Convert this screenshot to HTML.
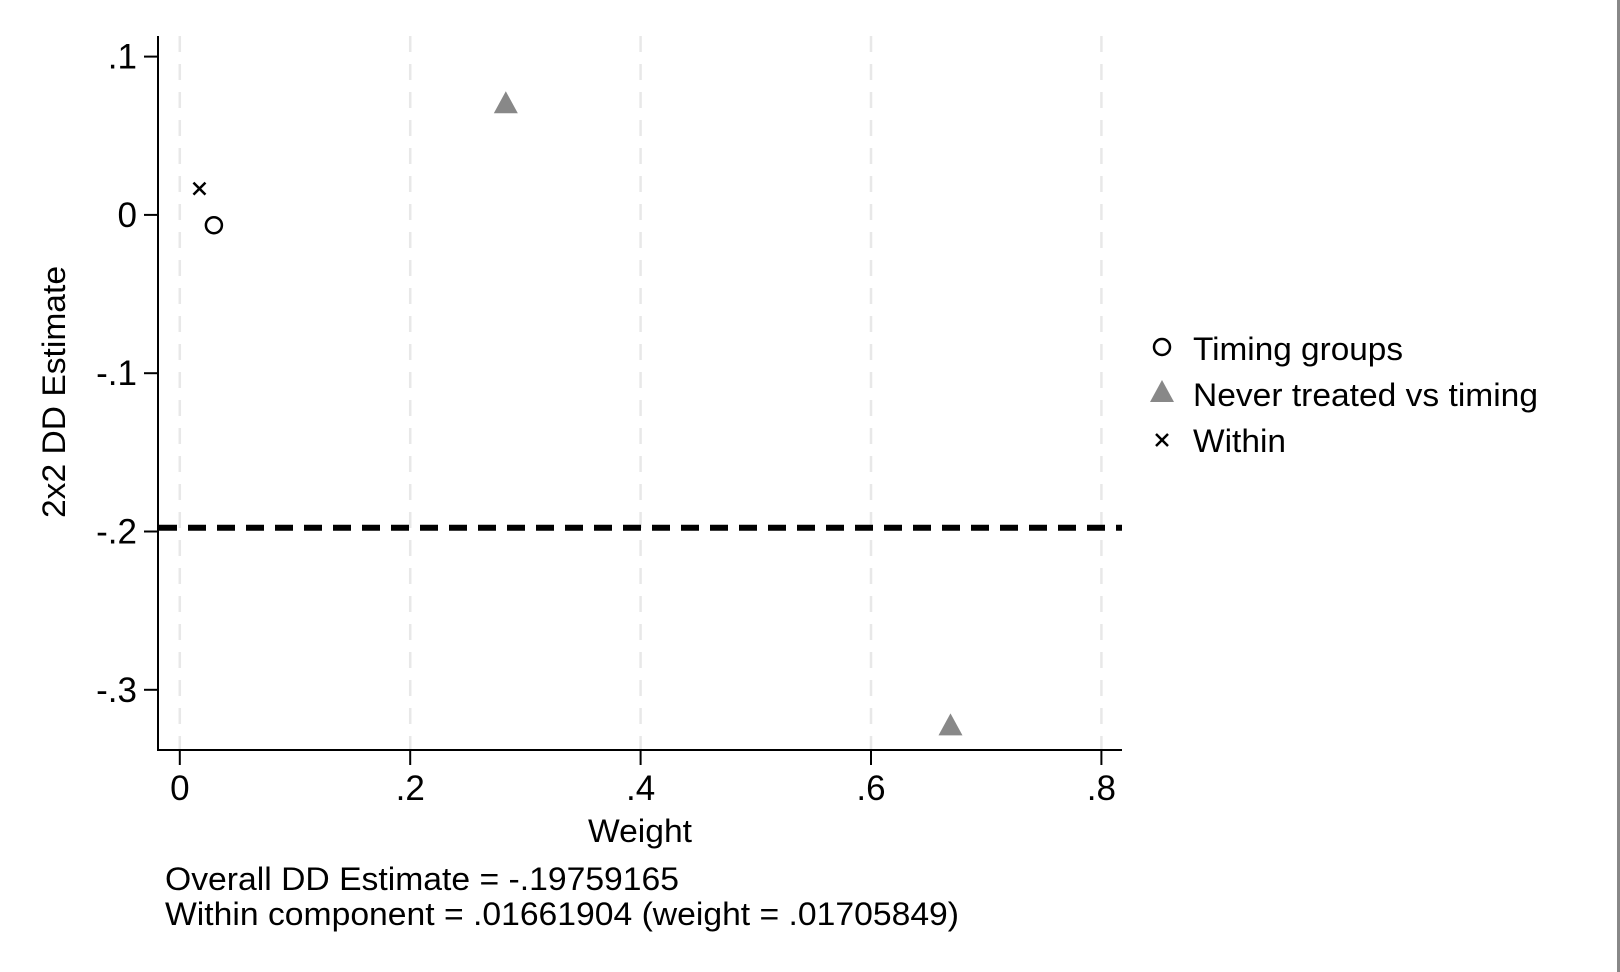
<!DOCTYPE html>
<html><head><meta charset="utf-8"><style>
html,body{margin:0;padding:0;background:#fff;}
svg{display:block;font-family:"Liberation Sans",Arial,sans-serif;}
</style></head><body>
<svg id="chart" width="1620" height="972" viewBox="0 0 1620 972">
<rect x="1617" y="0" width="3" height="972" fill="#888"/>
</svg>
<script>
const xTicks=[0,0.2,0.4,0.6,0.8];
const xTickLabels=["0",".2",".4",".6",".8"];
const yTicks=[0.1,0,-0.1,-0.2,-0.3];
const yTickLabels=[".1","0","-.1","-.2","-.3"];
const timingW=[0.0296];
const timingE=[-0.0065];
const neverW=[0.283,0.669];
const neverE=[0.0705,-0.3225];
const withinW=[0.01705849];
const withinE=[0.01661904];
const overall=-0.19759165;

const NS="http://www.w3.org/2000/svg";
const svg=document.getElementById('chart');
const X0=179.8, XS=1152, Y0=214.9, YS=1583;
const sx=v=>X0+v*XS, sy=v=>Y0-v*YS;
function mk(tag,attrs,parent){const e=document.createElementNS(NS,tag);for(const k in attrs)e.setAttribute(k,attrs[k]);(parent||svg).appendChild(e);return e;}

const grid=mk('g',{});


xTicks.forEach((t,i)=>{
  const l=mk('line',{x1:sx(t),x2:sx(t),y1:36,y2:750,stroke:'#e8e8e8','stroke-width':2.5,'stroke-dasharray':'16 12'},grid);
  
  
});
const ya=mk('line',{x1:158,x2:158,y1:36,y2:751,stroke:'#000','stroke-width':2});


const xa=mk('line',{x1:157,x2:1122,y1:750,y2:750,stroke:'#000','stroke-width':2});


xTicks.forEach((t,i)=>{
  const tk=mk('line',{x1:sx(t),x2:sx(t),y1:750,y2:765,stroke:'#000','stroke-width':2});
  
  
  const tx=mk('text',{x:sx(t),y:800,'font-size':35,'text-anchor':'middle'});
  tx.textContent=xTickLabels[i];
  
  
});
yTicks.forEach((t,i)=>{
  const tk=mk('line',{x1:144,x2:158,y1:sy(t),y2:sy(t),stroke:'#000','stroke-width':2});
  
  
  const tx=mk('text',{x:137,y:sy(t)+12,'font-size':35,'text-anchor':'end'});
  tx.textContent=yTickLabels[i];
  
  
});
const ol=mk('line',{x1:159,x2:1122,y1:sy(overall),y2:sy(overall),stroke:'#000','stroke-width':6,'stroke-dasharray':'18 11'});


timingW.forEach((w,i)=>{
  const c=mk('circle',{cx:sx(w),cy:sy(timingE[i]),r:8,fill:'none',stroke:'#000','stroke-width':2.5});
  
  
});
function tri(cx,cy,parent){return mk('polygon',{points:`${cx-12},${cy+10} ${cx+12},${cy+10} ${cx},${cy-12}`,fill:'#888'},parent);}
neverW.forEach((w,i)=>{
  const p=tri(sx(w),sy(neverE[i]));
  
  
});
function cross(cx,cy,parent){const g=mk('g',{stroke:'#000','stroke-width':2.5},parent);mk('line',{x1:cx-6,y1:cy-6,x2:cx+6,y2:cy+6},g);mk('line',{x1:cx-6,y1:cy+6,x2:cx+6,y2:cy-6},g);return g;}
withinW.forEach((w,i)=>{
  const g=cross(sx(w),sy(withinE[i]));
  
  
});
const yt=mk('text',{x:0,y:0,'font-size':32,'text-anchor':'middle',transform:'translate(65,392) rotate(-90)',textLength:252,lengthAdjust:'spacingAndGlyphs'});
yt.textContent='2x2 DD Estimate';


const xt=mk('text',{x:640,y:842,'font-size':32,'text-anchor':'middle',textLength:104,lengthAdjust:'spacingAndGlyphs'});
xt.textContent='Weight';


const n1=mk('text',{x:165,y:890,'font-size':32,textLength:514,lengthAdjust:'spacingAndGlyphs'});
n1.textContent='Overall DD Estimate = -.19759165';


const n2=mk('text',{x:165,y:925,'font-size':32,textLength:794,lengthAdjust:'spacingAndGlyphs'});
n2.textContent='Within component = .01661904 (weight = .01705849)';


const lg=mk('g',{});


const e1=mk('circle',{cx:1162,cy:347,r:8,fill:'none',stroke:'#000','stroke-width':2.5},lg);


const e2=tri(1162,392,lg);


const e3=cross(1162,440,lg);


const lt1=mk('text',{x:1193,y:360,'font-size':32,textLength:210,lengthAdjust:'spacingAndGlyphs'},lg);
lt1.textContent='Timing groups';


const lt2=mk('text',{x:1193,y:406,'font-size':32,textLength:345,lengthAdjust:'spacingAndGlyphs'},lg);
lt2.textContent='Never treated vs timing';


const lt3=mk('text',{x:1193,y:452,'font-size':32,textLength:93,lengthAdjust:'spacingAndGlyphs'},lg);
lt3.textContent='Within';


</script>
</body></html>
